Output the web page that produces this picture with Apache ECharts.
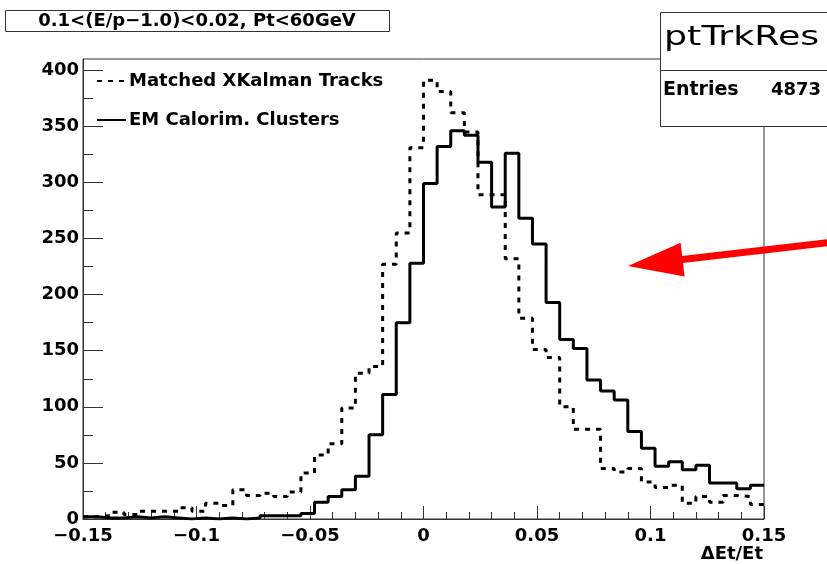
<!DOCTYPE html>
<html><head><meta charset="utf-8">
<script src="https://cdn.jsdelivr.net/npm/echarts@6/dist/echarts.min.js"></script>
<style>html,body{margin:0;padding:0;background:#fff}#c{width:827px;height:564px}</style>
</head><body><div id="c"></div>
<script>
// ---- data ----
const xMin = -0.15, xMax = 0.15, binWidth = 0.006;   // 50 bins
const xTickLabels = [-0.15, -0.1, -0.05, 0, 0.05, 0.1, 0.15];
const yTickLabels = [0, 50, 100, 150, 200, 250, 300, 350, 400];
const yMinorTicks = [25, 75, 125, 175, 225, 275, 325, 375];
const seriesNames = ['Matched XKalman Tracks', 'EM Calorim. Clusters'];
const trackCounts = [2, 3, 6, 4, 7, 7, 7, 10, 7, 14,
                     12, 26, 21, 23, 20, 24, 41, 57, 67, 99,
                     130, 136, 227, 255, 331, 391, 381, 362, 345, 289,
                     289, 232, 179, 151, 144, 100, 80, 80, 45, 42,
                     45, 33, 28, 30, 14, 20, 15, 21, 20, 13];
const clusterCounts = [2, 1, 1, 2, 1, 2, 1, 0, 1, 0,
                       1, 0, 1, 3, 3, 3, 5, 15, 20, 26,
                       38, 75, 111, 175, 228, 299, 332, 346, 342, 318,
                       278, 326, 268, 245, 193, 160, 152, 124, 114, 106,
                       78, 63, 47, 51, 44, 48, 32, 32, 27, 30];
const titleText = '0.1<(E/p\u22121.0)<0.02, Pt<60GeV';
const statsName = 'ptTrkRes';
const statsEntriesLabel = 'Entries';
const statsEntries = '4873';
const xAxisTitle = '\u0394Et/Et';

// ---- build ----
function toSteps(counts) {
  const pts = counts.map((v, i) => [+(xMin + i * binWidth).toFixed(4), v]);
  pts.push([xMax, counts[counts.length - 1]]);
  return pts;
}
const FONT = 'DejaVu Sans';
const AX = '#333';
const chart = echarts.init(document.getElementById('c'), null, {renderer: 'canvas'});
const fmtX = v => (v < 0 ? '\u2212' + String(+(-v).toFixed(3)) : String(+v.toFixed(3)));

chart.setOption({
  animation: false,
  backgroundColor: '#fff',
  grid: {left: 83, top: 59, right: 63, bottom: 45, show: true, borderColor: AX, borderWidth: 1, backgroundColor: 'transparent'},
  legend: {
    show: true, orient: 'vertical', left: 91, top: 67, itemGap: 21, itemWidth: 29, itemHeight: 14,
    selectedMode: false, data: seriesNames,
    itemStyle: {color: 'transparent', borderWidth: 0, opacity: 0},
    textStyle: {fontFamily: FONT, fontWeight: 'bold', fontSize: 18, color: '#000', padding: [0, 0, 0, -2]}
  },
  xAxis: {
    type: 'value', min: xMin, max: xMax, interval: 0.05,
    axisLine: {show: true, onZero: false, lineStyle: {color: AX, width: 1}},
    axisTick: {show: true, inside: true, length: 13, lineStyle: {color: AX, width: 1}},
    minorTick: {show: true, splitNumber: 5, length: 7, lineStyle: {color: AX, width: 1}},
    splitLine: {show: false}, minorSplitLine: {show: false},
    axisLabel: {show: true, margin: 8, color: '#000', fontFamily: FONT, fontWeight: 'bold', fontSize: 18,
      customValues: xTickLabels, formatter: fmtX}
  },
  yAxis: [{
    type: 'value', min: 0, max: 410, interval: 50,
    axisLine: {show: true, onZero: false, lineStyle: {color: AX, width: 1}},
    axisTick: {show: true, inside: true, length: 20, customValues: yTickLabels, lineStyle: {color: AX, width: 1}},
    splitLine: {show: false},
    axisLabel: {show: true, margin: 4, color: '#000', fontFamily: FONT, fontWeight: 'bold', fontSize: 18,
      customValues: yTickLabels}
  }, {
    type: 'value', min: 0, max: 410, position: 'left',
    axisLine: {show: false, onZero: false},
    axisTick: {show: true, inside: true, length: 10, customValues: yMinorTicks, lineStyle: {color: AX, width: 1}},
    splitLine: {show: false},
    axisLabel: {show: false}
  }],
  series: [{
    name: seriesNames[0], type: 'line', step: 'end', symbol: 'none', yAxisIndex: 0,
    data: toSteps(trackCounts),
    lineStyle: {color: '#000', width: 3, type: [5, 6]}, itemStyle: {color: '#000'}, z: 3
  }, {
    name: seriesNames[1], type: 'line', step: 'end', symbol: 'none', yAxisIndex: 0,
    data: toSteps(clusterCounts),
    lineStyle: {color: '#000', width: 3, type: 'solid'}, itemStyle: {color: '#000'}, z: 4
  }],
  graphic: [
    // title box
    {type: 'rect', z: 10, shape: {x: 5.5, y: 10.5, width: 384, height: 21},
      style: {fill: '#fff', stroke: AX, lineWidth: 1}},
    {type: 'text', z: 11, x: 197, y: 21.5,
      style: {text: titleText, font: 'bold 18px "DejaVu Sans"', fill: '#000', textAlign: 'center', textVerticalAlign: 'middle'}},
    // stats box
    {type: 'rect', z: 10, shape: {x: 660.5, y: 12.5, width: 180, height: 114},
      style: {fill: '#fff', stroke: AX, lineWidth: 1}},
    {type: 'line', z: 11, shape: {x1: 660, y1: 70.5, x2: 827, y2: 70.5}, style: {stroke: AX, lineWidth: 1}},
    {type: 'text', z: 11, x: 664, y: 38, scaleX: 1.4,
      style: {text: statsName, font: '26px "DejaVu Sans"', fill: '#000', textAlign: 'left', textVerticalAlign: 'middle'}},
    {type: 'text', z: 11, x: 663, y: 90,
      style: {text: statsEntriesLabel, font: 'bold 19px "DejaVu Sans"', fill: '#000', textAlign: 'left', textVerticalAlign: 'middle'}},
    {type: 'text', z: 11, x: 821, y: 90,
      style: {text: statsEntries, font: 'bold 18px "DejaVu Sans"', fill: '#000', textAlign: 'right', textVerticalAlign: 'middle'}},
    // x axis title
    {type: 'text', z: 11, x: 763, y: 554,
      style: {text: xAxisTitle, font: 'bold 18px "DejaVu Sans"', fill: '#000', textAlign: 'right', textVerticalAlign: 'middle'}},
    // red arrow
    {type: 'line', z: 12, shape: {x1: 678, y1: 260, x2: 830, y2: 242.5}, style: {stroke: '#f00', lineWidth: 7}},
    {type: 'polygon', z: 12, shape: {points: [[628, 266], [680.6, 242.8], [684.6, 276.6]]}, style: {fill: '#f00'}}
  ]
});
</script>
</body></html>
